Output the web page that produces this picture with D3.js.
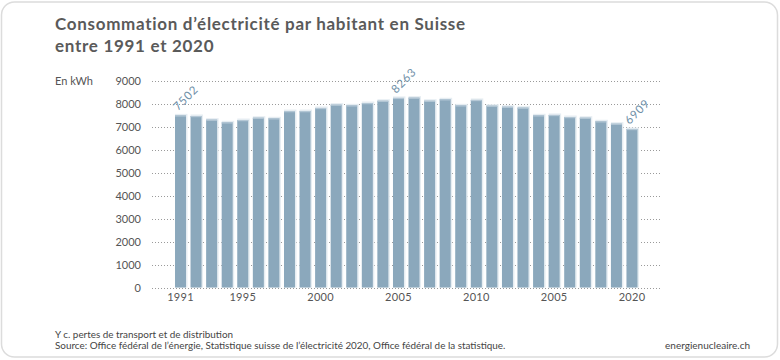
<!DOCTYPE html>
<html>
<head>
<meta charset="utf-8">
<script src="https://cdn.jsdelivr.net/npm/d3@7"></script>
<style>
  html, body { margin: 0; padding: 0; background: #fff; }
  svg { display: block; }
  text { font-family: Lato, "Open Sans", sans-serif; }
</style>
</head>
<body>
<svg id="chart" width="780" height="360"></svg>
<script>
const years = d3.range(1991, 2021).map(String);
const values = [7502, 7475, 7315, 7200, 7300, 7400, 7375, 7690, 7690, 7825,
                7970, 7940, 8040, 8140, 8263, 8275, 8140, 8205, 7940, 8175,
                7925, 7880, 7840, 7505, 7520, 7430, 7400, 7245, 7140, 6909];
const yTicks = [0, 1000, 2000, 3000, 4000, 5000, 6000, 7000, 8000, 9000];
const xTickYears = ["1991", "1995", "2000", "2005", "2010", "2015", "2020"];
const xTickLabels = ["1991", "1995", "2000", "2005", "2010", "2005", "2020"];
const labelledYears = ["1991", "2005", "2020"];
const titleLines = ["Consommation d\u2019électricité par habitant en Suisse", "entre 1991 et 2020"];
const unitLabel = "En kWh";
const notes = ["Y c. pertes de transport et de distribution",
               "Source: Office fédéral de l\u2019énergie, Statistique suisse de l\u2019électricité 2020, Office fédéral de la statistique."];
const siteLabel = "energienucleaire.ch";

const svg = d3.select("#chart");
const textColor = "#555";

// card
svg.append("rect")
  .attr("x", 1.5).attr("y", 2).attr("width", 776).attr("height", 355)
  .attr("rx", 13).attr("fill", "#fff").attr("stroke", "#dcdcdc").attr("stroke-width", 1.5);

// title
svg.append("g").selectAll("text").data(titleLines).join("text")
  .attr("x", 55).attr("y", (d, i) => 30 + i * 21.5)
  .attr("font-size", 17).attr("font-weight", 700).attr("fill", "#5a5a5a")
  .attr("letter-spacing", 0.7)
  .text(d => d);

const x = d3.scaleBand().domain(years).range([171.9, 640.6]).paddingInner(0.295).paddingOuter(0.2);
const y = d3.scaleLinear().domain([0, 9000]).range([287.5, 81]);

// gridlines
svg.append("g").selectAll("line").data(yTicks).join("line")
  .attr("x1", 152).attr("x2", 660)
  .attr("y1", d => Math.round(y(d)) + 0.5).attr("y2", d => Math.round(y(d)) + 0.5)
  .attr("stroke", "#9a9a9a").attr("stroke-width", 1).attr("stroke-dasharray", "1,2");

// y axis labels
const yAxis = svg.append("g").attr("transform", "translate(141,0)")
  .call(d3.axisLeft(y).tickValues(yTicks).tickSize(0).tickPadding(0).tickFormat(d3.format("d")));
yAxis.select(".domain").remove();
yAxis.selectAll("text").attr("font-size", 11).attr("fill", textColor)
  .attr("font-family", "Lato, sans-serif").attr("dy", "0.35em");

svg.append("text").attr("x", 55).attr("y", y(9000) + 4)
  .attr("font-size", 11).attr("fill", textColor).text(unitLabel);

// bars
const data = years.map((yr, i) => ({ year: yr, value: values[i] }));
const bars = svg.append("g");
bars.selectAll("rect.halo").data(data).join("rect").attr("class", "halo")
  .attr("x", d => x(d.year)).attr("width", x.bandwidth() + 1.5)
  .attr("y", d => y(d.value) - 1.5).attr("height", d => y(0) - y(d.value) + 1.5)
  .attr("fill", "#e6edf2");
bars.selectAll("rect.bar").data(data).join("rect").attr("class", "bar")
  .attr("x", d => x(d.year)).attr("width", x.bandwidth())
  .attr("y", d => y(d.value)).attr("height", d => y(0) - y(d.value))
  .attr("fill", "#8ba8bc");
bars.selectAll("rect.top").data(data).join("rect").attr("class", "top")
  .attr("x", d => x(d.year)).attr("width", x.bandwidth())
  .attr("y", d => y(d.value)).attr("height", 1.2)
  .attr("fill", "#b5c8d6");

// value labels
svg.append("g").selectAll("text").data(data.filter(d => labelledYears.includes(d.year))).join("text")
  .attr("transform", d => `translate(${x(d.year) + 3},${y(d.value) - 4}) rotate(-45)`)
  .attr("font-size", 11.5).attr("fill", "#6f90a8").attr("letter-spacing", 0.8)
  .text(d => d3.format("d")(d.value));

// x labels
const xAxis = svg.append("g").attr("transform", "translate(0,293)")
  .call(d3.axisBottom(x).tickValues(xTickYears).tickSize(0).tickPadding(0)
    .tickFormat(d => xTickLabels[xTickYears.indexOf(d)]));
xAxis.select(".domain").remove();
xAxis.selectAll("text").attr("font-size", 11).attr("fill", textColor)
  .attr("font-family", "Lato, sans-serif").attr("letter-spacing", 0.3);

// footer
svg.append("g").selectAll("text").data(notes).join("text")
  .attr("x", 55).attr("y", (d, i) => 338 + i * 11)
  .attr("font-size", 9.9).attr("fill", "#444").text(d => d);

svg.append("text").attr("x", 750).attr("y", 349).attr("text-anchor", "end")
  .attr("font-size", 10).attr("fill", "#444").text(siteLabel);
</script>
</body>
</html>
